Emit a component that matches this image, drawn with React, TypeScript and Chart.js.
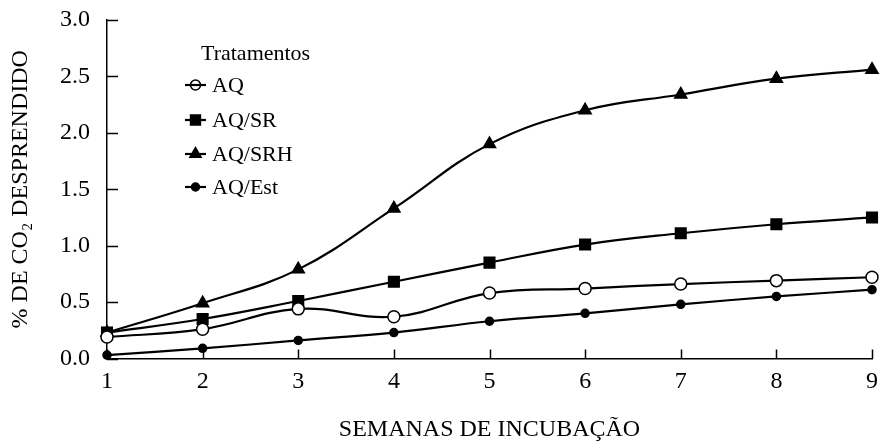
import React, { useEffect, useRef } from "react";
import { Chart, registerables } from "chart.js";

Chart.register(...registerables);

const weeks = [1, 2, 3, 4, 5, 6, 7, 8, 9];
const aq = [0.19, 0.26, 0.44, 0.37, 0.58, 0.62, 0.66, 0.69, 0.72];
const aqSr = [0.23, 0.35, 0.51, 0.68, 0.85, 1.01, 1.11, 1.19, 1.25];
const aqSrh = [0.23, 0.49, 0.79, 1.33, 1.9, 2.2, 2.34, 2.48, 2.56];
const aqEst = [0.03, 0.09, 0.16, 0.23, 0.33, 0.4, 0.48, 0.55, 0.61];
const yTicks = [0, 0.5, 1, 1.5, 2, 2.5, 3];
const seriesNames = ["AQ", "AQ/SR", "AQ/SRH", "AQ/Est"];
const legendTitle = "Tratamentos";
const xTitle = "SEMANAS DE INCUBAÇÃO";
const yTitle = "% DE CO₂ DESPRENDIDO";

const FONT = "'Liberation Serif', 'Times New Roman', serif";

const styles = [
  { pointStyle: "circle", radius: 6, fill: "#ffffff" },
  { pointStyle: "rect", radius: 7.5, fill: "#000000" },
  { pointStyle: "triangle", radius: 7, fill: "#000000" },
  { pointStyle: "circle", radius: 4, fill: "#000000" },
];

function drawMarker(ctx: CanvasRenderingContext2D, style: string, r: number, x: number, y: number, fill: string | null) {
  ctx.save();
  ctx.strokeStyle = "#000";
  ctx.lineWidth = 1.5;
  ctx.beginPath();
  if (style === "circle") {
    ctx.arc(x, y, r, 0, Math.PI * 2);
  } else if (style === "rect") {
    const s = Math.SQRT1_2 * r;
    ctx.rect(x - s, y - s, 2 * s, 2 * s);
  } else {
    const w = r * Math.sin(Math.PI / 3);
    ctx.moveTo(x, y - r);
    ctx.lineTo(x + w, y + r / 2);
    ctx.lineTo(x - w, y + r / 2);
    ctx.closePath();
  }
  if (fill) {
    ctx.fillStyle = fill;
    ctx.fill();
  }
  ctx.stroke();
  ctx.restore();
}

const innerTicks = {
  id: "innerTicks",
  afterDatasetsDraw(chart: any) {
    const { ctx, chartArea, scales } = chart;
    ctx.save();
    ctx.strokeStyle = "#000";
    ctx.lineWidth = 1.5;
    for (const v of yTicks) {
      const y = Math.round(scales.y.getPixelForValue(v)) + 0.5;
      ctx.beginPath();
      ctx.moveTo(chartArea.left, y);
      ctx.lineTo(chartArea.left + 11, y);
      ctx.stroke();
    }
    for (const v of weeks) {
      const x = Math.round(scales.x.getPixelForValue(v)) + 0.5;
      ctx.beginPath();
      ctx.moveTo(x, chartArea.bottom);
      ctx.lineTo(x, chartArea.bottom - 9);
      ctx.stroke();
    }
    // legend
    ctx.fillStyle = "#000";
    ctx.textBaseline = "middle";
    ctx.textAlign = "left";
    ctx.font = `22px ${FONT}`;
    ctx.fillText(legendTitle, 201, 54);
    const rows = [85, 120, 154, 187];
    seriesNames.forEach((name, i) => {
      const y = rows[i];
      ctx.strokeStyle = "#000";
      ctx.lineWidth = 2.2;
      ctx.beginPath();
      ctx.moveTo(185, y);
      ctx.lineTo(206, y);
      ctx.stroke();
      const s = styles[i];
      const r = i === 0 ? 5 : i === 3 ? 4 : s.radius - 0.5;
      drawMarker(ctx, s.pointStyle, r, 195.5, y, i === 0 ? null : s.fill);
      ctx.fillStyle = "#000";
      ctx.fillText(name, 212, y + 1);
    });
    ctx.restore();
  },
};

export default function App() {
  const ref = useRef<HTMLCanvasElement | null>(null);
  useEffect(() => {
    if (!ref.current) return;
    const all = [aq, aqSr, aqSrh, aqEst];
    const chart = new Chart(ref.current, {
      type: "line",
      data: {
        datasets: all.map((vals, i) => ({
          label: seriesNames[i],
          data: vals.map((v, j) => ({ x: weeks[j], y: v })),
          borderColor: "#000",
          borderWidth: 2.2,
          tension: 0.4,
          pointStyle: styles[i].pointStyle as any,
          pointRadius: styles[i].radius,
          pointBackgroundColor: styles[i].fill,
          pointBorderColor: "#000",
          pointBorderWidth: 1.5,
          clip: false as any,
        })),
      },
      options: {
        animation: false,
        responsive: false,
        layout: { padding: { left: 6, right: 4, top: 20, bottom: 0 } },
        plugins: { legend: { display: false }, tooltip: { enabled: false } },
        scales: {
          x: {
            type: "linear",
            min: 1,
            max: 9,
            afterBuildTicks: (s: any) => {
              s.ticks = weeks.map((v) => ({ value: v }));
            },
            afterFit: (s: any) => {
              s.height = 85.5;
              s.paddingLeft = 0;
              s.paddingRight = 0;
            },
            ticks: {
              color: "#000",
              font: { family: FONT, size: 24 },
              padding: 9,
              maxRotation: 0,
              callback: (v: any) => String(v),
            },
            grid: { display: true, drawOnChartArea: false, drawTicks: false },
            border: { display: true, color: "#000", width: 1.5 },
            title: {
              display: true,
              text: xTitle,
              color: "#000",
              font: { family: FONT, size: 24 },
              padding: { top: 16, bottom: 0 },
            },
          },
          y: {
            type: "linear",
            min: 0,
            max: 3,
            afterBuildTicks: (s: any) => {
              s.ticks = yTicks.map((v) => ({ value: v }));
            },
            afterFit: (s: any) => {
              s.width = 101;
              s.paddingTop = 0;
              s.paddingBottom = 0;
            },
            ticks: {
              color: "#000",
              font: { family: FONT, size: 24 },
              padding: 17,
              callback: (v: any) => Number(v).toFixed(1),
            },
            grid: { display: true, drawOnChartArea: false, drawTicks: false },
            border: { display: true, color: "#000", width: 1.5 },
            title: {
              display: true,
              text: yTitle,
              color: "#000",
              font: { family: FONT, size: 24 },
              padding: { top: 0, bottom: 0 },
            },
          },
        },
      },
      plugins: [innerTicks],
    });
    return () => chart.destroy();
  }, []);
  return (
    <div style={{ position: "absolute", left: 0, top: 0, width: 881, height: 444, background: "#fff" }}>
      <canvas ref={ref} width={881} height={444} style={{ width: 881, height: 444 }} />
    </div>
  );
}
